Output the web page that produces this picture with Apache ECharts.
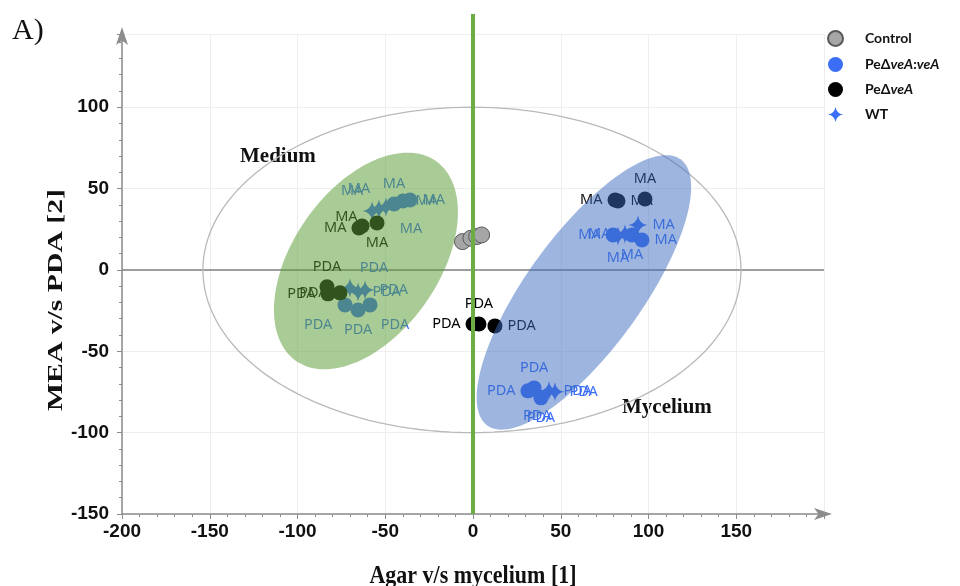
<!DOCTYPE html>
<html>
<head>
<meta charset="utf-8">
<script src="https://cdn.jsdelivr.net/npm/echarts@6/dist/echarts.min.js"></script>
<style>
  html, body { margin: 0; padding: 0; background: #fff; }
  #main { width: 960px; height: 586px; }
</style>
</head>
<body>
<div id="main"></div>
<script>
// scores (component 1, component 2)
const controlPts = [[-6.0, 17.4], [-1.2, 19.5], [2.1, 20.5], [4.9, 21.5]];

const complPts = [
  [-45.0, 40.5], [-39.9, 42.4], [-35.9, 43.0],
  [-72.9, -21.5], [-65.5, -24.6], [-58.7, -21.5],
  [79.8, 21.5], [90.6, 21.5], [96.3, 18.4],
  [31.3, -74.3], [34.8, -72.5], [38.7, -78.6]
];
const complLabels = ["MA", "MA", "MA", "PDA", "PDA", "PDA", "MA", "MA", "MA", "PDA", "PDA", "PDA"];

const wtPts = [
  [-57.5, 36.2], [-53.6, 37.5], [-49.6, 38.7],
  [-70.1, -11.1], [-61.5, -12.3], [-65.5, -13.5],
  [82.6, 20.9], [94.0, 27.6], [86.6, 22.1],
  [36.5, -76.2], [43.3, -74.3], [46.7, -74.9]
];
const wtLabels = ["MA", "MA", "MA", "PDA", "PDA", "PDA", "MA", "MA", "MA", "PDA", "PDA", "PDA"];

const deltaPts = [
  [-65.0, 25.8], [-63.2, 27.0], [-54.7, 28.9],
  [-83.2, -10.4], [-82.6, -14.7], [-75.8, -14.1],
  [80.9, 43.0], [82.6, 42.4], [98.0, 43.6],
  [0.0, -33.2], [3.4, -33.2], [12.5, -34.4]
];
const deltaLabels = ["MA", "MA", "MA", "PDA", "PDA", "PDA", "MA", "MA", "MA", "PDA", "PDA", "PDA"];

// ellipses: centre x, centre y, radius x, radius y, tilt (deg)
const ellipseAll = [-0.6, 0, 153.3, 100, 0];
const ellipseMedium = [-61.0, 5.5, 69.5, 44.8, 55];
const ellipseMycelium = [63.2, -13.8, 93.7, 35.3, 54];

const xTicks = [-200, -150, -100, -50, 0, 50, 100, 150];
const yTicks = [-150, -100, -50, 0, 50, 100];

// label placement (style only)
const complPlace = ["top", "right", "right", "bottomLeft", "bottom", "bottomRight", "left", "bottom", "right", "left", "top", "bottom"];
const wtPlace = ["topLeft", "topLeft", "bottomRight", "topRight", "right", "right", "bottom", "right", "left", "bottom", "right", "right"];
const deltaPlace = ["left", "upLeft", "bottom", "top", "left", "left", "left", "right", "top", "left", "top", "right"];

const blue = "#3b6ef5";
const tickFont = '"Liberation Sans", Arial, sans-serif';
const serif = '"Liberation Serif", "Times New Roman", serif';

function place(p) {
  switch (p) {
    case "topLeft": return { position: "top", offset: [-20, 2] };
    case "topRight": return { position: "top", offset: [24, 2] };
    case "upLeft": return { position: "left", offset: [8, -9] };
    case "bottomLeft": return { position: "bottom", offset: [-27, 0] };
    case "bottomRight": return { position: "bottom", offset: [25, 0] };
    default: return { position: p };
  }
}

function pointSeries(name, pts, labels, places, color, symbol, size) {
  return {
    type: "scatter",
    name: name,
    symbol: symbol,
    symbolSize: size,
    z: 2,
    itemStyle: { color: color, opacity: 1 },
    label: {
      show: true,
      formatter: "{b}",
      color: color,
      fontSize: 14.5,
      fontFamily: '"Noto Sans", "Open Sans", sans-serif',
      distance: 5
    },
    emphasis: { disabled: true },
    data: pts.map(function (p, i) {
      return Object.assign({ name: labels[i], value: p }, { label: place(places[i]) });
    })
  };
}

function renderEllipse(params, api) {
  var c = api.coord([api.value(0), api.value(1)]);
  var rx = api.size([api.value(2), 0])[0];
  var ry = api.size([0, api.value(3)])[1];
  var a = api.value(4) * Math.PI / 180;
  var pts = [];
  for (var i = 0; i < 160; i++) {
    var t = i / 160 * Math.PI * 2;
    var ex = rx * Math.cos(t), ey = ry * Math.sin(t);
    pts.push([
      c[0] + ex * Math.cos(a) - ey * Math.sin(a),
      c[1] - (ex * Math.sin(a) + ey * Math.cos(a))
    ]);
  }
  return { type: "polygon", shape: { points: pts }, style: api.style() };
}

var chartDom = document.getElementById("main");
var myChart = echarts.init(chartDom);
var option;

var starPath = "path://M0,-10 Q1.4,-1.4 10,0 Q1.4,1.4 0,10 Q-1.4,1.4 -10,0 Q-1.4,-1.4 0,-10 Z";

var texts = [
  { type: "text", left: 12, top: 16, style: { text: "A)", font: "30px " + serif, fill: "#111" } },
  { type: "text", left: 240, top: 146, style: { text: "Medium", font: "bold 21px " + serif, fill: "#111" } },
  { type: "text", left: 622, top: 397, style: { text: "Mycelium", font: "bold 21px " + serif, fill: "#111" } },
  {
    type: "text",
    x: 473,
    y: 576,
    scaleY: 1.15,
    style: { text: "Agar v/s mycelium [1]", font: "bold 22px " + serif, fill: "#111", align: "center", verticalAlign: "middle" }
  },
  {
    type: "text",
    x: 56,
    y: 300,
    rotation: Math.PI / 2,
    scaleX: 1.35,
    style: { text: "MEA v/s PDA [2]", font: "bold 22px " + serif, fill: "#111", align: "center", verticalAlign: "middle" }
  }
];

option = {
  animation: false,
  backgroundColor: "#fff",
  grid: { left: 122, right: 136, top: 34, bottom: 72, containLabel: false, outerBoundsMode: "none" },
  legend: {
    data: ["Control", "PeΔveA:veA", "PeΔveA", "WT"],
    orient: "vertical",
    left: 822,
    top: 25,
    itemWidth: 15,
    itemHeight: 15,
    itemGap: 10,
    selectedMode: false,
    formatter: function (name) {
      if (name === "PeΔveA:veA") return "{b|PeΔ}{i|veA}{b|:}{i|veA}";
      if (name === "PeΔveA") return "{b|PeΔ}{i|veA}";
      return "{b|" + name + "}";
    },
    textStyle: {
      padding: [0, 0, 0, 17],
      rich: {
        b: { fontSize: 14, fontWeight: "bold", fontFamily: 'Lato, "Open Sans", sans-serif', color: "#111" },
        i: { fontSize: 14, fontWeight: "bold", fontStyle: "italic", fontFamily: 'Lato, "Open Sans", sans-serif', color: "#111" }
      }
    }
  },
  xAxis: {
    type: "value",
    min: -200,
    max: 200,
    interval: 50,
    axisLine: { onZero: false, symbol: ["none", "arrow"], symbolSize: [9, 18], symbolOffset: [0, 8], lineStyle: { color: "#8c8c8c", width: 1.5 } },
    axisTick: { length: 5, lineStyle: { color: "#8c8c8c" } },
    minorTick: { show: true, splitNumber: 5, length: 3, lineStyle: { color: "#8c8c8c" } },
    axisLabel: {
      showMaxLabel: false,
      margin: 8,
      fontFamily: tickFont,
      fontWeight: "bold",
      fontSize: 19,
      color: "#111",
      formatter: function (v) { return xTicks.indexOf(v) >= 0 ? String(v) : ""; }
    },
    splitLine: { show: true, lineStyle: { color: "#eeeeee" } }
  },
  yAxis: {
    type: "value",
    min: -150,
    max: 145,
    interval: 50,
    axisLine: { onZero: false, symbol: ["none", "arrow"], symbolSize: [9, 18], symbolOffset: [0, 7], lineStyle: { color: "#8c8c8c", width: 1.5 } },
    axisTick: { length: 5, lineStyle: { color: "#8c8c8c" } },
    minorTick: { show: true, splitNumber: 5, length: 3, lineStyle: { color: "#8c8c8c" } },
    axisLabel: {
      showMaxLabel: false,
      margin: 13,
      fontFamily: tickFont,
      fontWeight: "bold",
      fontSize: 19,
      color: "#111",
      formatter: function (v) { return yTicks.indexOf(v) >= 0 ? String(v) : ""; }
    },
    splitLine: { show: true, lineStyle: { color: "#eeeeee" } }
  },
  graphic: texts,
  series: [
    {
      type: "custom",
      name: "outline",
      z: 1,
      silent: true,
      renderItem: renderEllipse,
      encode: { x: 0, y: 1 },
      itemStyle: { color: "none", borderColor: "#b9b9b9", borderWidth: 1.3 },
      data: [ellipseAll],
      markLine: {
        z: 1,
        silent: true,
        symbol: "none",
        label: { show: false },
        lineStyle: { color: "#808080", width: 1.5, type: "solid" },
        data: [{ yAxis: 0 }]
      }
    },
    pointSeries("WT", wtPts, wtLabels, wtPlace, blue, starPath, 19),
    pointSeries("PeΔveA:veA", complPts, complLabels, complPlace, blue, "circle", 15),
    pointSeries("PeΔveA", deltaPts, deltaLabels, deltaPlace, "#000", "circle", 15),
    {
      type: "scatter",
      name: "Control",
      symbol: "circle",
      symbolSize: 16,
      z: 2,
      itemStyle: { color: "#a6a6a6", borderColor: "#595959", borderWidth: 1, opacity: 1 },
      data: controlPts
    },
    {
      type: "custom",
      name: "groups",
      z: 3,
      silent: true,
      renderItem: renderEllipse,
      encode: { x: 0, y: 1 },
      data: [
        { value: ellipseMedium, itemStyle: { color: "rgba(92,157,55,0.53)" } },
        { value: ellipseMycelium, itemStyle: { color: "rgba(60,108,192,0.5)" } }
      ]
    }
  ]
};

option && myChart.setOption(option);

// green x = 0 divider runs from the x axis up past the top of the y axis
var base = myChart.convertToPixel({ gridIndex: 0 }, [0, -150]);
myChart.setOption({
  graphic: texts.concat([{
    type: "line",
    z: 100,
    silent: true,
    shape: { x1: base[0], y1: base[1], x2: base[0], y2: 14 },
    style: { stroke: "#6aae45", lineWidth: 4 }
  }])
});
</script>
</body>
</html>
